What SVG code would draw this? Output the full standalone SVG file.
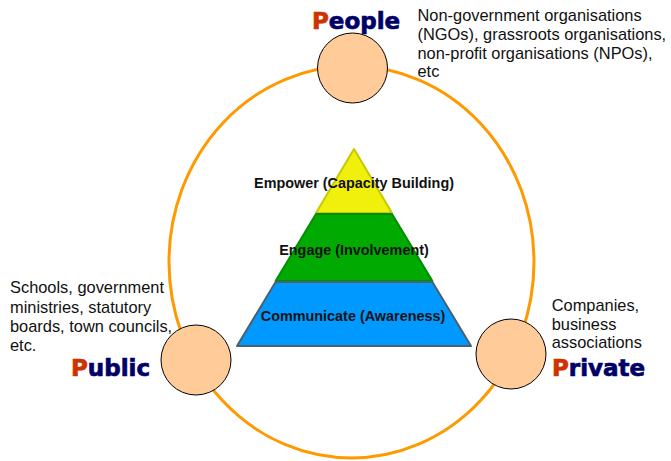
<svg xmlns="http://www.w3.org/2000/svg" width="671" height="461" viewBox="0 0 671 461">
  <style>
    .ring { fill: none; stroke: #ff9900; stroke-width: 3; }
    .hub { fill: #ffcc99; stroke: #000; stroke-width: 1; }
    .head { font-family: "DejaVu Sans", Verdana, sans-serif; font-weight: bold; font-size: 23px; fill: #000066; stroke: #000066; stroke-width: 0.7; }
    .first { fill: #cc3300; stroke: #cc3300; }
    .desc { font-family: "Liberation Sans", Arial, sans-serif; font-size: 16.4px; fill: #111; }
    .tier { font-family: "Liberation Sans", Arial, sans-serif; font-weight: bold; font-size: 14.4px; fill: #111; text-anchor: middle; }
  </style>
  <rect width="671" height="461" fill="#fff"/>

  <g id="connectors">
    <ellipse class="ring" cx="351.5" cy="262" rx="182.5" ry="196"/>
  </g>

  <g id="pyramid">
    <g id="tier-empower">
      <polygon points="354,149 392,213 316,213" fill="#f0f00c" stroke="#c8c800" stroke-width="2" stroke-linejoin="round"/>
      <text class="tier" transform="translate(354,187.5) scale(1,1.07)">Empower (Capacity Building)</text>
    </g>
    <g id="tier-engage">
      <polygon points="316,214 392,214 432.4,281 275.6,281" fill="#00aa00" stroke="#008f00" stroke-width="2" stroke-linejoin="round"/>
      <text class="tier" transform="translate(354,254.5) scale(1,1.07)">Engage (Involvement)</text>
    </g>
    <g id="tier-communicate">
      <polygon points="275.6,282 432.4,282 471,346 237,346" fill="#0099ff" stroke="#4a6070" stroke-width="2" stroke-linejoin="round"/>
      <text class="tier" transform="translate(353,320.5) scale(1,1.07)">Communicate (Awareness)</text>
    </g>
  </g>

  <g id="node-people">
    <circle class="hub" cx="352.5" cy="68" r="35"/>
    <text class="head" x="312" y="29"><tspan class="first">P</tspan>eople</text>
    <text class="desc" x="417.5" y="20.7">
      <tspan x="417.5">Non-government organisations</tspan>
      <tspan x="417.5" dy="18.9">(NGOs), grassroots organisations,</tspan>
      <tspan x="417.5" dy="18.9">non-profit organisations (NPOs),</tspan>
      <tspan x="417.5" dy="18.9">etc</tspan>
    </text>
  </g>

  <g id="node-public">
    <circle class="hub" cx="196" cy="360" r="35"/>
    <text class="head" x="71" y="376"><tspan class="first">P</tspan>ublic</text>
    <text class="desc" x="10" y="293.3">
      <tspan x="10">Schools, government</tspan>
      <tspan x="10" dy="19.2">ministries, statutory</tspan>
      <tspan x="10" dy="19.2">boards, town councils,</tspan>
      <tspan x="10" dy="19.2">etc.</tspan>
    </text>
  </g>

  <g id="node-private">
    <circle class="hub" cx="511" cy="354" r="35"/>
    <text class="head" x="552" y="376"><tspan class="first">P</tspan>rivate</text>
    <text class="desc" x="551.7" y="310.7">
      <tspan x="551.7">Companies,</tspan>
      <tspan x="551.7" dy="18.8">business</tspan>
      <tspan x="551.7" dy="18.8">associations</tspan>
    </text>
  </g>
</svg>
